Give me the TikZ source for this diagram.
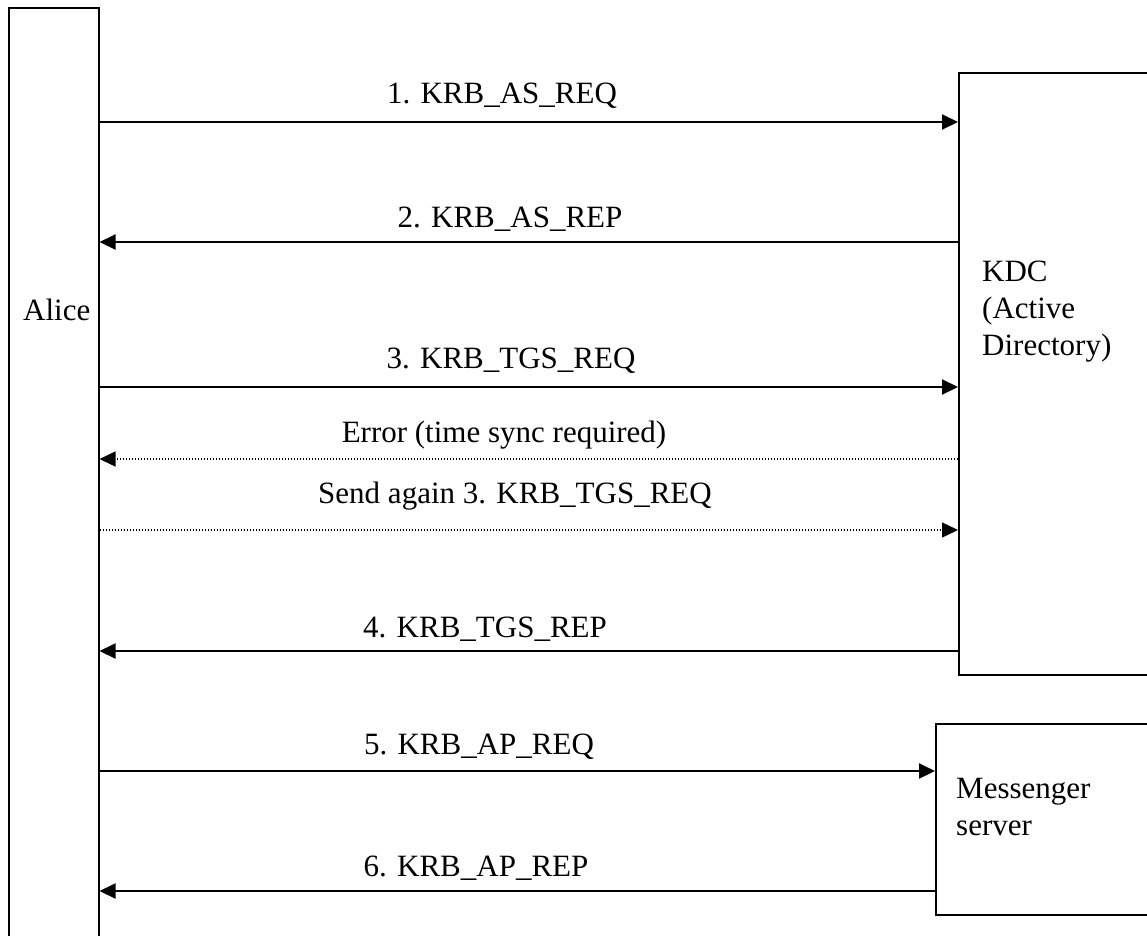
\documentclass[tikz,border=0pt]{standalone}
\usepackage{fontspec}
\setmainfont{Liberation Serif}
\usetikzlibrary{arrows.meta}
\begin{document}
\begin{tikzpicture}[x=1pt,y=-1pt,
  every node/.style={font=\fontsize{31}{37}\selectfont},
  partybox/.style={draw, line width=1.5pt, rectangle, inner sep=0pt, anchor=north west},
  msglabel/.style={inner sep=0pt, anchor=base},
  partytext/.style={inner sep=0pt, anchor=base west, align=left},
  msgline/.style={line width=2pt, -{Triangle[length=16pt,width=15pt]}},
  retry/.style={line width=1.3pt, dash pattern=on 1.3pt off 1.7pt, -{Triangle[length=16pt,width=15pt]}}
]
\useasboundingbox (0,0) rectangle (1147,935);
\fill[white] (0,0) rectangle (1147,935);

% participants
\node[partybox, minimum width=90pt, minimum height=945pt] (alice) at (8,7) {};
\node[partybox, minimum width=205pt, minimum height=602pt] (kdc) at (958,72) {};
\node[partybox, minimum width=228pt, minimum height=191pt] (msg) at (935,723) {};

% names (multi-line nodes are anchored at the baseline of their last line)
\node[partytext] (alicetxt) at (23,320) {Alice};
\node[partytext] (kdctxt) at (982,355) {KDC\\(Active\\Directory)};
\node[partytext] (msgtxt) at (956,835) {Messenger\\server};

% message rows
\coordinate (r1) at (0,122);
\coordinate (r2) at (0,242);
\coordinate (r3) at (0,387);
\coordinate (r4) at (0,459);
\coordinate (r5) at (0,530);
\coordinate (r6) at (0,651);
\coordinate (r7) at (0,771);
\coordinate (r8) at (0,891);

\draw[msgline] (alice.east |- r1) -- (kdc.west |- r1);
\draw[msgline] (kdc.west |- r2) -- (alice.east |- r2);
\draw[msgline] (alice.east |- r3) -- (kdc.west |- r3);
\draw[retry] (kdc.west |- r4) -- (alice.east |- r4);
\draw[retry] (alice.east |- r5) -- (kdc.west |- r5);
\draw[msgline] (kdc.west |- r6) -- (alice.east |- r6);
\draw[msgline] (alice.east |- r7) -- (msg.west |- r7);
\draw[msgline] (msg.west |- r8) -- (alice.east |- r8);

% message labels
\node[msglabel] (l1) at (502,103) {1. KRB\_AS\_REQ};
\node[msglabel] (l2) at (510,227) {2. KRB\_AS\_REP};
\node[msglabel] (l3) at (511,368) {3. KRB\_TGS\_REQ};
\node[msglabel] (l4) at (504,442) {Error (time sync required)};
\node[msglabel] (l5) at (515,503) {Send again 3. KRB\_TGS\_REQ};
\node[msglabel] (l6) at (485,637) {4. KRB\_TGS\_REP};
\node[msglabel] (l7) at (479,754) {5. KRB\_AP\_REQ};
\node[msglabel] (l8) at (476,876) {6. KRB\_AP\_REP};
\end{tikzpicture}
\end{document}
